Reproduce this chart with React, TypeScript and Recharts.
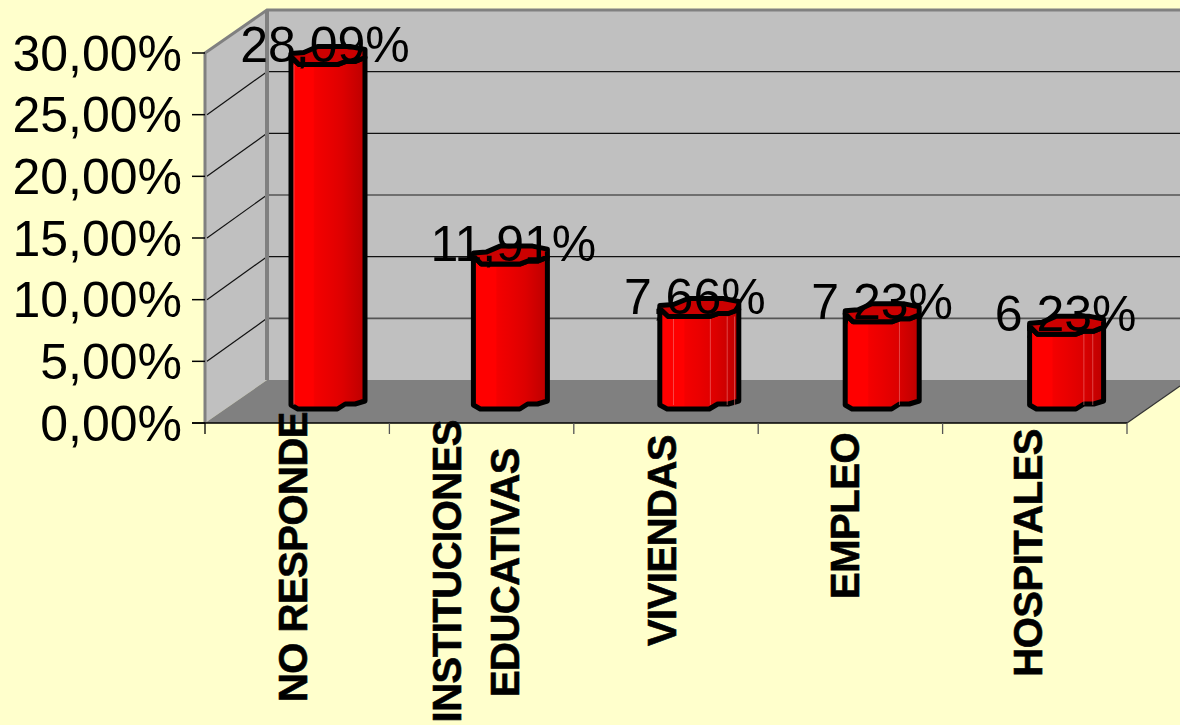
import React from "react";
import { BarChart, Bar, XAxis, YAxis, LabelList } from "recharts";

const categories = ["NO RESPONDE", "INSTITUCIONES EDUCATIVAS", "VIVIENDAS", "EMPLEO", "HOSPITALES"];
const values = [28.09, 11.91, 7.66, 7.23, 6.23];
const yTicks = [0, 5, 10, 15, 20, 25, 30];
const data = categories.map((name, i) => ({ name, value: values[i] }));

const W = 1180, H = 725;
const LEFT = 205, RIGHT = 1127, TOP = 53, BOTTOM = 423;
const DX = 62, DY = 43;
const yOf = (v: number) => BOTTOM - (v / 30) * (BOTTOM - TOP);
const FONT = "'Liberation Sans', Arial, sans-serif";
const fmt = (v: number) => v.toFixed(2).replace(".", ",") + "%";

function Backdrop() {
  const seps = [0, 1, 2, 3, 4, 5].map((i) => LEFT + (i * (RIGHT - LEFT)) / 5);
  return (
    <g>
      <defs>
        <linearGradient id="cyl" x1="0" y1="0" x2="1" y2="0">
          <stop offset="0" stopColor="#FF0000" />
          <stop offset="0.3" stopColor="#FF0000" />
          <stop offset="0.32" stopColor="#F40000" />
          <stop offset="0.5" stopColor="#EA0000" />
          <stop offset="0.7" stopColor="#DD0000" />
          <stop offset="1" stopColor="#BC0000" />
        </linearGradient>
      </defs>
      <polygon points={`${LEFT},${TOP} ${LEFT + DX},${TOP - DY} ${LEFT + DX},${BOTTOM - DY} ${LEFT},${BOTTOM}`} fill="#C0C0C0" />
      <rect x={LEFT + DX} y={TOP - DY} width={W - LEFT - DX} height={BOTTOM - TOP} fill="#C0C0C0" />
      <polygon points={`${LEFT},${BOTTOM} ${LEFT + DX},${BOTTOM - DY} ${W},${BOTTOM - DY} ${W},386 ${RIGHT},${BOTTOM}`} fill="#808080" />
      {yTicks.slice(1, -1).map((v) => (
        <g key={v}>
          <line x1={LEFT + DX} x2={W} y1={yOf(v) - DY} y2={yOf(v) - DY} stroke={v === 15 || v === 5 ? "#555" : "#111"} strokeWidth={v === 15 || v === 5 ? 1.6 : 1.2} />
          <line x1={LEFT + 2} y1={yOf(v)} x2={LEFT + DX} y2={yOf(v) - DY} stroke="#111" strokeWidth={1.2} />
        </g>
      ))}
      <polyline points={`${LEFT},${BOTTOM} ${LEFT},${TOP} ${LEFT + DX},${TOP - DY} ${W},${TOP - DY}`} fill="none" stroke="#808080" strokeWidth={3} />
      <line x1={LEFT + DX} y1={TOP - DY} x2={LEFT + DX} y2={BOTTOM - DY} stroke="#808080" strokeWidth={4} />
      <line x1={RIGHT} y1={BOTTOM} x2={W} y2={386} stroke="#333" strokeWidth={1.2} />
      <line x1={LEFT - 13} x2={RIGHT} y1={BOTTOM} y2={BOTTOM} stroke="#000" strokeWidth={1.5} />
      {seps.map((x, i) => (
        <line key={i} x1={x} x2={x} y1={BOTTOM} y2={BOTTOM + 11} stroke={i === 0 ? "#000" : "#555"} strokeWidth={1.3} />
      ))}
    </g>
  );
}

const barExtra = [0, 0, 5, 0, 0];
const barShift = [31, 29, 31, 32, 32];
const seams: number[][] = [[3], [], [13, 48, 64, 71], [55], [55, 64]];

function Column(props: any) {
  const { x, y, width, index } = props;
  const L = x + barShift[index];
  const R = L + width + barExtra[index];
  const w = R - L;
  const T = y - 12;
  const B = BOTTOM - 14;
  const f = (n: number) => L + (n / 75) * w;
  const body = [
    [L, T - 8], [f(8), T], [f(47), T], [f(55), T - 3], [f(65), T - 3], [R, T - 7],
    [R, B - 8], [f(65), B - 5], [f(55), B - 5], [f(47), B], [f(7), B], [L, B - 4],
  ];
  const cap = [
    [L, T - 8], [f(8), T], [f(47), T], [f(55), T - 3], [f(65), T - 3], [R, T - 7],
    [R, T - 15], [f(60), T - 18], [f(27), T - 18], [f(13), T - 12], [L, T - 11],
  ];
  const s = (p: number[][]) => p.map((q) => q.join(",")).join(" ");
  return (
    <g>
      <polygon points={s(body)} fill="url(#cyl)" stroke="#000" strokeWidth={5} strokeLinejoin="round" />
      {seams[index].map((n, i) => (
        <line key={i} x1={f(n)} x2={f(n)} y1={T} y2={B - 4} stroke="#F08080" strokeOpacity={0.55} strokeWidth={1} />
      ))}
      <polygon points={s(cap)} fill="#CC0000" stroke="#000" strokeWidth={5} strokeLinejoin="round" />
    </g>
  );
}

const labelLines: string[][] = [["NO RESPONDE"], ["INSTITUCIONES", "EDUCATIVAS"], ["VIVIENDAS"], ["EMPLEO"], ["HOSPITALES"]];
const labelPlace: { dx: number; top: number }[][] = [
  [{ dx: 10, top: 412 }],
  [{ dx: -21, top: 420 }, { dx: 37, top: 448 }],
  [{ dx: 10, top: 435 }],
  [{ dx: 8.5, top: 433 }],
  [{ dx: 7, top: 429 }],
];

function CatTick(props: any) {
  const { x, index } = props;
  return (
    <g>
      {labelLines[index].map((line, i) => {
        const p = labelPlace[index][i];
        return (
          <text key={i} transform={`translate(${x + p.dx},${p.top}) rotate(-90)`} textAnchor="end" fontFamily={FONT} fontWeight={700} fontSize={40} letterSpacing={-0.5} stroke="#000" strokeWidth={0.6} fill="#000">
            {line}
          </text>
        );
      })}
    </g>
  );
}

const labelNudge = [-2, 2, -1, 2, 1];

function ValueLabel(props: any) {
  const { x, y, width, value, index } = props;
  return (
    <text x={x + width / 2 + 30 + labelNudge[index]} y={y - 15} textAnchor="middle" fontFamily={FONT} fontSize={50} fill="#000">
      {fmt(Number(value))}
    </text>
  );
}

export default function App() {
  return (
    <div style={{ position: "absolute", left: 0, top: 0, width: W, height: H, background: "#FFFFCC", overflow: "hidden" }}>
      <BarChart width={W} height={H} data={data} margin={{ top: TOP, right: W - RIGHT, bottom: 0, left: 0 }} barCategoryGap="0%">
        <Backdrop />
        <XAxis dataKey="name" height={H - BOTTOM} interval={0} tick={<CatTick />} tickLine={false} axisLine={false} />
        <YAxis
          width={LEFT}
          domain={[0, 30]}
          ticks={yTicks}
          interval={0}
          tickFormatter={fmt}
          tickSize={13}
          tickMargin={10}
          tick={{ fontFamily: FONT, fontSize: 50, fill: "#000" }}
          tickLine={{ stroke: "#000", strokeWidth: 1.5 }}
          axisLine={false}
        />
        <Bar dataKey="value" barSize={74} shape={<Column />} isAnimationActive={false}>
          <LabelList dataKey="value" content={<ValueLabel />} />
        </Bar>
      </BarChart>
    </div>
  );
}
